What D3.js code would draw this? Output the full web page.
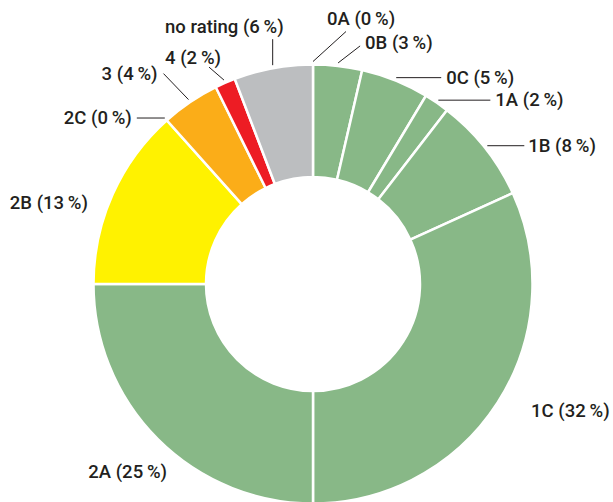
<!DOCTYPE html>
<html>
<head>
<meta charset="utf-8">
<script src="https://cdn.jsdelivr.net/npm/d3@7"></script>
<style>
  body { margin: 0; background: #fff; }
  text { font-family: Roboto, "Noto Sans", sans-serif; font-size: 18.5px; font-weight: 500; fill: #231f20; }
</style>
</head>
<body>
<div id="chart"></div>
<script>
// ratings and their share of the total (slice sizes)
const categories = ["0A", "0B", "0C", "1A", "1B", "1C", "2A", "2B", "2C", "3", "4", "no rating"];
const values = [0, 3.6, 5.0, 1.85, 7.75, 31.8, 25, 13.4, 0, 4.3, 1.5, 5.8];
const percentLabels = ["0", "3", "5", "2", "8", "32", "25", "13", "0", "4", "2", "6"];
const colors = ["#88b887", "#88b887", "#88b887", "#88b887", "#88b887", "#88b887",
                "#88b887", "#fff200", "#fbad18", "#fbad18", "#ed1c24", "#bcbec0"];

const width = 613, height = 502;
const cx = 313, cy = 284;
const outerR = 219.5, innerR = 107;

// label placement: leader vector from the ring, then text offset from its end
const layout = {
  "0A":        { leader: [33, -30],  text: [-19, -7],  anchor: "start" },
  "0B":        { leader: [22, -17],  text: [5, 3],     anchor: "start" },
  "0C":        { leader: [45, 0],    text: [5, 6],     anchor: "start" },
  "1A":        { leader: [52, 0],    text: [5, 6],     anchor: "start" },
  "1B":        { leader: [37, 0],    text: [4, 6],     anchor: "start" },
  "1C":        { leader: null,       text: [31, 13],   anchor: "start" },
  "2A":        { leader: null,       text: [-28, 37],  anchor: "middle" },
  "2B":        { leader: null,       text: [-22, 16],  anchor: "end" },
  "2C":        { leader: [-28, 0],   text: [-5, 6],    anchor: "end" },
  "3":         { leader: [-25, -26], text: [-6, 6],    anchor: "end" },
  "4":         { leader: [-15, -13], text: [12, -3],   anchor: "end" },
  "no rating": { leader: [0, -26],   text: [11, -6],   anchor: "end" }
};

const data = categories.map((c, i) => ({ cat: c, value: values[i], pct: percentLabels[i], color: colors[i] }));

const svg = d3.select("#chart").append("svg")
    .attr("width", width)
    .attr("height", height);

const g = svg.append("g")
    .attr("transform", "translate(" + cx + "," + cy + ")");

const pie = d3.pie()
    .sort(null)
    .value(d => d.value);

const arc = d3.arc()
    .innerRadius(innerR)
    .outerRadius(outerR);

const arcs = pie(data);

g.selectAll(".slice")
    .data(arcs.filter(d => d.data.value > 0))
  .enter().append("path")
    .attr("class", "slice")
    .attr("d", arc)
    .style("fill", d => d.data.color)
    .style("stroke", "#fff")
    .style("stroke-width", 2.5)
    .style("stroke-linejoin", "miter");

// leaders start just outside the ring at the middle angle of the slice
const labelR = 222.5;
function ringPoint(d) {
  const a = (d.startAngle + d.endAngle) / 2;
  return [labelR * Math.sin(a), -labelR * Math.cos(a)];
}

const labels = g.selectAll(".label")
    .data(arcs)
  .enter().append("g")
    .attr("class", "label");

labels.each(function(d) {
  const sel = d3.select(this);
  const lay = layout[d.data.cat];
  const p = ringPoint(d);
  let end = p;
  if (lay.leader) {
    end = [p[0] + lay.leader[0], p[1] + lay.leader[1]];
    sel.append("line")
        .attr("x1", p[0]).attr("y1", p[1])
        .attr("x2", end[0]).attr("y2", end[1])
        .style("stroke", "#231f20")
        .style("stroke-width", 1);
  }
  sel.append("text")
      .attr("x", end[0] + lay.text[0])
      .attr("y", end[1] + lay.text[1])
      .attr("text-anchor", lay.anchor)
      .text(d.data.cat + " (" + d.data.pct + "\u2009%)");
});
</script>
</body>
</html>
